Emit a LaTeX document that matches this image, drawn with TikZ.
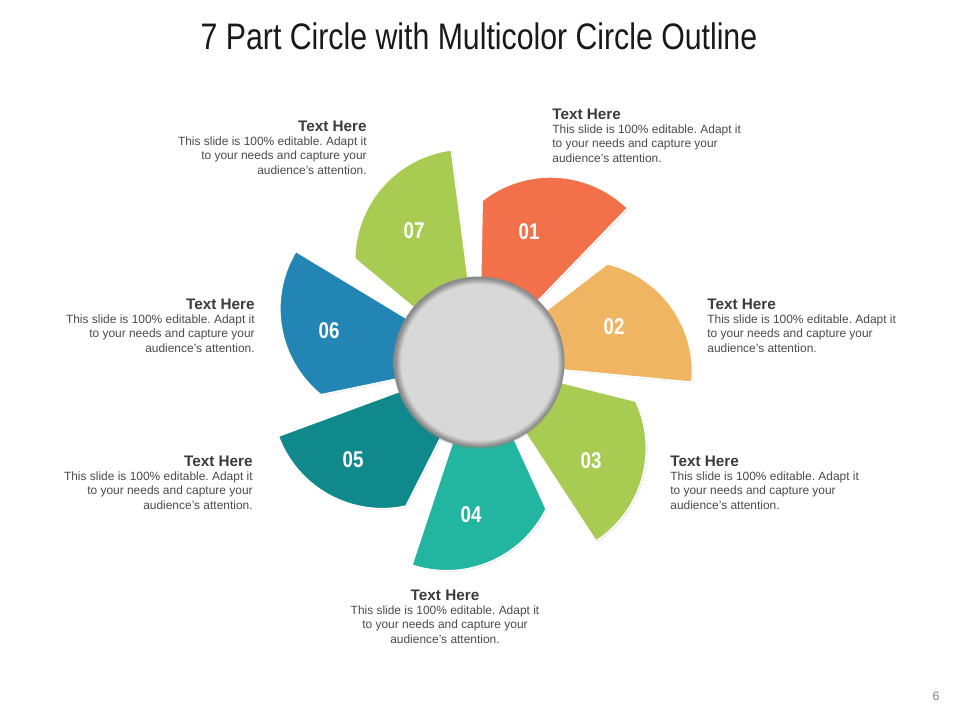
\documentclass[tikz,border=0pt]{standalone}
\usepackage{fontspec}
\setmainfont{Liberation Sans}
\newfontfamily\narrowfont[FakeStretch=0.82]{Liberation Sans}
\usetikzlibrary{positioning,shadows}
\definecolor{PetalOrange}{HTML}{F2704A}
\definecolor{PetalAmber}{HTML}{EFB562}
\definecolor{PetalLime}{HTML}{A8CB52}
\definecolor{PetalTeal}{HTML}{22B6A0}
\definecolor{PetalPetrol}{HTML}{10898C}
\definecolor{PetalBlue}{HTML}{2285B4}
\definecolor{DiscGray}{HTML}{D8D8D8}
\definecolor{DiscEdge}{HTML}{8A8A8A}
\definecolor{HeadGray}{HTML}{3C3C3C}
\definecolor{BodyGray}{HTML}{4A4A4A}
\pgfdeclareradialshading{discshade}{\pgfpoint{0bp}{0bp}}{color(0bp)=(DiscGray); color(22.8bp)=(DiscGray); color(24.6bp)=(DiscEdge); color(25bp)=(DiscEdge); color(50bp)=(DiscEdge)}
\newcommand{\blurbtext}{This slide is 100\% editable. Adapt it}
\frenchspacing

\begin{document}
\begin{tikzpicture}[x=0.02cm,y=0.02cm,
      petal/.style={draw=white,line width=0.9pt,
        drop shadow={opacity=0.2,shadow xshift=0.7pt,shadow yshift=-0.7pt}},
      disc/.style={circle,minimum size=3.42cm,inner sep=0pt,shading=discshade,
        drop shadow={opacity=0.25,shadow xshift=0pt,shadow yshift=-1pt}},
      num/.style={font=\narrowfont\bfseries\fontsize{13}{13}\selectfont,text=white},
      head/.style={inner sep=0pt,font=\fontsize{8.7}{10}\selectfont\bfseries,text=HeadGray},
      body/.style={inner sep=0pt,font=\fontsize{6.8}{8.2}\selectfont,text=BodyGray}]
      \path[use as bounding box,fill=white] (0,0) rectangle (960,720);
      \node[font=\narrowfont\fontsize{21}{24}\selectfont,text=black!90] (title) at (479,684)
        {7 Part Circle with Multicolor Circle Outline};
      \coordinate (O) at (479,358);
      % petals, clockwise from the top
      \foreach \k/\col/\lx/\ly in {1/PetalOrange/529/488,2/PetalAmber/614/393,
          3/PetalLime/591/259,4/PetalTeal/471/205,5/PetalPetrol/353/260,
          6/PetalBlue/329/389,7/PetalLime/414/489}{
        \pgfmathsetmacro\t{46-(\k-1)*360/7}
        \fill[petal,fill=\col] (O) -- ++(\t:214) arc[start angle=\t,end angle=\t+82,radius=111] -- cycle;
        \node[num] (n\k) at (\lx,\ly) {0\k};
      }
      \node[disc] (disc) at (O) {};
      % text blocks
      \node[body,anchor=north west,align=left] (b1) at (552,595.5)
        {\blurbtext\\to your needs and capture your\\audience's attention.};
      \node[head,anchor=south west] (h1) at ([yshift=2.8pt]b1.north west) {Text Here};
      \node[body,anchor=north west,align=left] (b2) at (707,405.5)
        {\blurbtext\\to your needs and capture your\\audience's attention.};
      \node[head,anchor=south west] (h2) at ([yshift=2.8pt]b2.north west) {Text Here};
      \node[body,anchor=north west,align=left] (b3) at (670,248.5)
        {\blurbtext\\to your needs and capture your\\audience's attention.};
      \node[head,anchor=south west] (h3) at ([yshift=2.8pt]b3.north west) {Text Here};
      \node[body,anchor=north,align=center] (b4) at (445,114.5)
        {\blurbtext\\to your needs and capture your\\audience's attention.};
      \node[head,anchor=south] (h4) at ([yshift=2.8pt]b4.north) {Text Here};
      \node[body,anchor=north east,align=right] (b5) at (253,248.5)
        {\blurbtext\\to your needs and capture your\\audience's attention.};
      \node[head,anchor=south east] (h5) at ([yshift=2.8pt]b5.north east) {Text Here};
      \node[body,anchor=north east,align=right] (b6) at (255,405.5)
        {\blurbtext\\to your needs and capture your\\audience's attention.};
      \node[head,anchor=south east] (h6) at ([yshift=2.8pt]b6.north east) {Text Here};
      \node[body,anchor=north east,align=right] (b7) at (367,583.5)
        {\blurbtext\\to your needs and capture your\\audience's attention.};
      \node[head,anchor=south east] (h7) at ([yshift=2.8pt]b7.north east) {Text Here};
      \node[font=\fontsize{7}{8}\selectfont,text=black!50] (page) at (936,24) {6};
    \end{tikzpicture}
\end{document}
